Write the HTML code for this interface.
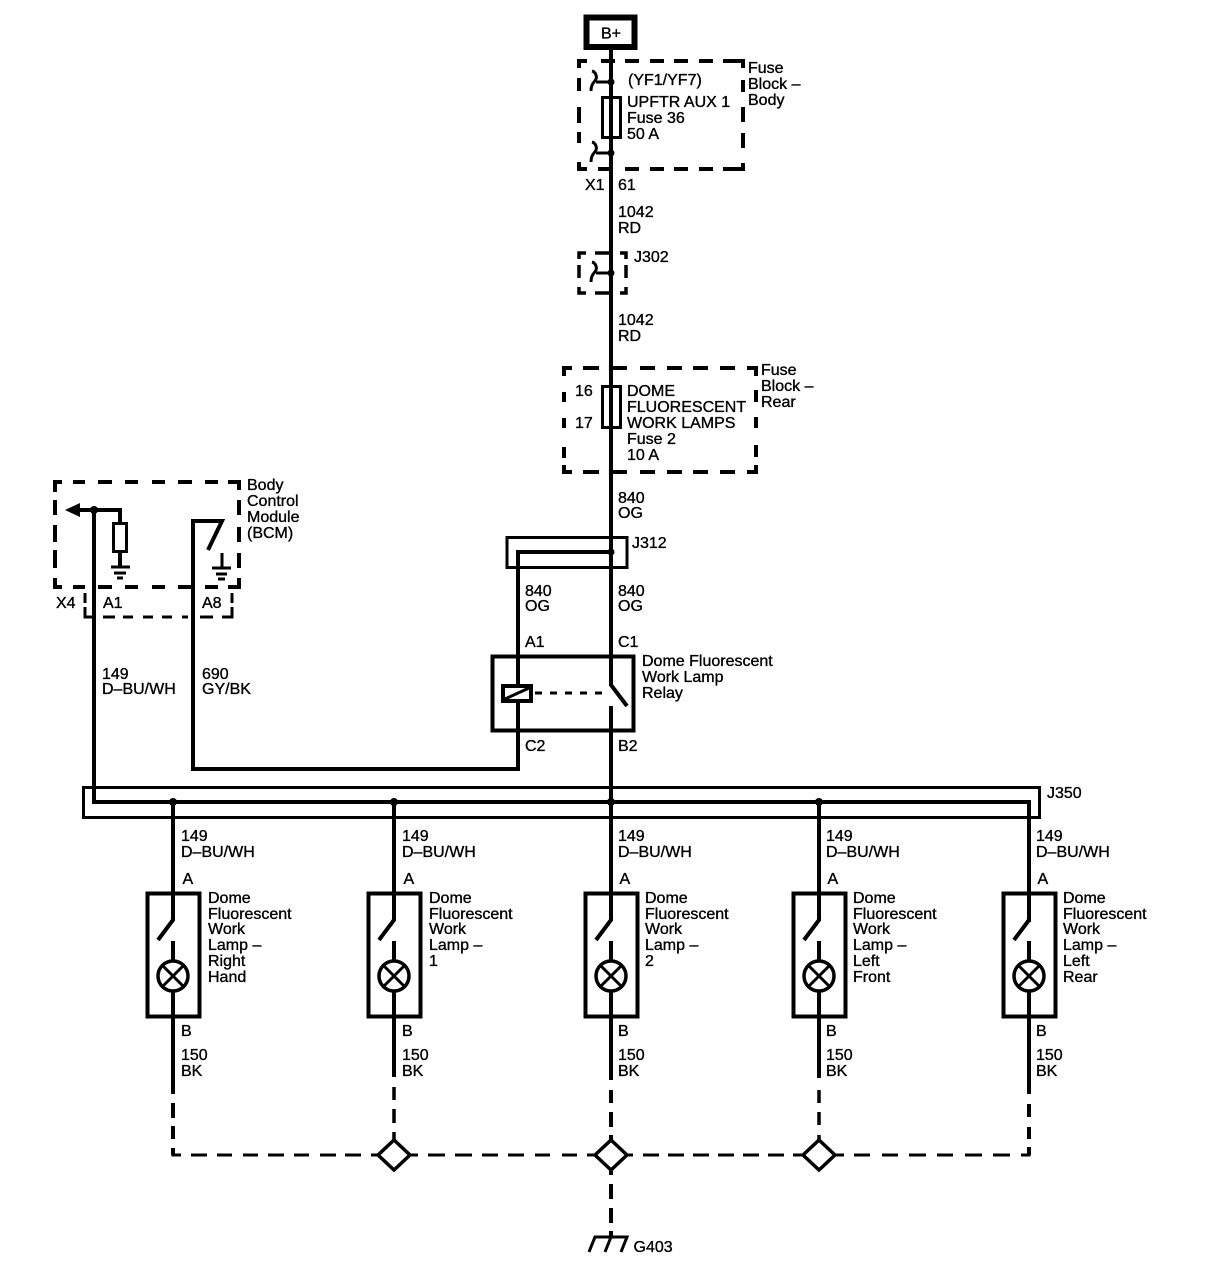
<!DOCTYPE html>
<html><head><meta charset="utf-8"><style>
html,body{margin:0;padding:0;background:#fff}
svg{display:block}
text{font-family:"Liberation Sans",sans-serif;font-size:16px;fill:#000;stroke:#000;stroke-width:.35}
.w{fill:none;stroke:#000;stroke-width:4}
.t{fill:none;stroke:#000;stroke-width:3}
.m{fill:none;stroke:#000;stroke-width:3.500}
</style></head><body>
<svg width="1214" height="1280" viewBox="0 0 1214 1280" xmlns="http://www.w3.org/2000/svg">
<defs>
<path id="f" class="t" d="M596 82H611M592 71C596 72 597 77 596 79C595 82 591 83 591 91"/>
</defs>
<!-- B+ -->
<rect x="586.500" y="17.500" width="48" height="29.500" fill="none" stroke="#000" stroke-width="6"/>
<text x="601" y="38.500">B+</text>
<!-- main wire -->
<path class="w" d="M611 50V685L627 706M611 706V1080"/>
<!-- Fuse block body -->
<path class="w" d="M587 61H579V68M601 61H615M625 61H639M650 61H664M674 61H688M699 61H713M723 61H743V68M743 80V92M743 107V122M743 133V148M743 163V169H723M713 169H699M688 169H674M664 169H650M639 169H625M610 169H598M587 169H579V162M579 143V132M579 123V107M579 91V78"/>
<rect x="602.500" y="97.500" width="18" height="40" fill="#fff" stroke="#000" stroke-width="3"/>
<path class="w" d="M611 95V140"/>
<circle cx="611" cy="82" r="3.500"/><circle cx="611" cy="153" r="3.500"/>
<use href="#f"/>
<use href="#f" y="71"/>
<text x="628" y="85">(YF1/YF7)</text>
<text x="627" y="107">UPFTR AUX 1</text>
<text x="627" y="123">Fuse 36</text>
<text x="627" y="139">50 A</text>
<text x="748" y="73">Fuse</text>
<text x="748" y="89">Block –</text>
<text x="748" y="105">Body</text>
<text x="585" y="190">X1</text>
<text x="618" y="190">61</text>
<text x="618" y="217">1042</text>
<text x="618" y="233">RD</text>
<!-- J302 -->
<path class="m" d="M586 253H579V259M595 253H611M620 253H626V259M626 265V278M626 287V293H620M611 293H595M586 293H579V287M579 278V265"/>
<circle cx="611" cy="273" r="3.500"/>
<use href="#f" y="191"/>
<text x="634" y="262">J302</text>
<text x="618" y="325">1042</text>
<text x="618" y="341">RD</text>
<!-- Fuse block rear -->
<path class="w" d="M572 368H564V376M583 368H599M613 368H627M640 368H655M667 368H682M693 368H708M720 368H735M747 368H756V376M756 390V402M756 417V428M756 445V457M756 465V472H747M735 472H720M708 472H693M682 472H667M655 472H640M627 472H613M599 472H583M572 472H564V465M564 458V447M564 428V418M564 402V392"/>
<rect x="602.500" y="386.500" width="18" height="41" fill="#fff" stroke="#000" stroke-width="3"/>
<path class="w" d="M611 384V430"/>
<text x="575" y="396">16</text>
<text x="575" y="428">17</text>
<text x="627" y="396">DOME</text>
<text x="627" y="412">FLUORESCENT</text>
<text x="627" y="428">WORK LAMPS</text>
<text x="627" y="444">Fuse 2</text>
<text x="627" y="460">10 A</text>
<text x="761" y="375">Fuse</text>
<text x="761" y="391">Block –</text>
<text x="761" y="407">Rear</text>
<text x="618" y="503">840</text>
<text x="618" y="518">OG</text>
<!-- J312 -->
<rect x="507" y="537.500" width="120" height="30" class="t"/>
<path class="w" d="M611 552H518V769H193V521H222L208 550"/>
<circle cx="611" cy="552" r="3.500"/>
<text x="632" y="548">J312</text>
<text x="525" y="596">840</text>
<text x="525" y="611">OG</text>
<text x="618" y="596">840</text>
<text x="618" y="611">OG</text>
<text x="525" y="647">A1</text>
<text x="618" y="647">C1</text>
<!-- relay -->
<rect x="492.500" y="656.500" width="141" height="74" fill="none" stroke="#000" stroke-width="4"/>
<rect x="503" y="686" width="28" height="15" fill="#fff" stroke="#000" stroke-width="4"/>
<path class="t" d="M505 699L529 688"/>
<path d="M535 693H610" fill="none" stroke="#000" stroke-width="3" stroke-dasharray="7 8"/>
<text x="642" y="666">Dome Fluorescent</text>
<text x="642" y="682">Work Lamp</text>
<text x="642" y="698">Relay</text>
<text x="525" y="751">C2</text>
<text x="618" y="751">B2</text>
<!-- BCM -->
<path class="w" d="M62 482H55V492M73 482H85M98 482H112M125 482H138M152 482H165M178 482H192M205 482H218M228 482H239V490M239 500V515M239 527V542M239 553V568M239 578V587H228M218 587H205M192 587H178M165 587H152M138 587H125M112 587H98M85 587H73M62 587H55V578M55 568V550M55 542V525M55 515V500"/>
<path class="t" d="M85 593V603M85 607V617H93M103 617H115M123 617H133M143 617H153M162 617H172M182 617H188M200 617H213M222 617H232V607M232 603V593"/>
<path class="w" d="M94 510V802H1029V1094"/>
<circle cx="94" cy="510" r="4"/>
<path d="M65 510L80 503V517Z"/>
<path class="w" d="M78 510H120V523"/>
<rect x="113.500" y="523.500" width="13" height="28" fill="none" stroke="#000" stroke-width="3"/>
<path class="w" d="M120 552V566"/>
<path class="t" d="M111 567H130M114 573H126M117 578H123"/>
<path class="t" d="M222 553V567"/>
<path class="t" d="M212 568H231M216 574H227M218 579H225"/>
<text x="247" y="490">Body</text>
<text x="247" y="506">Control</text>
<text x="247" y="522">Module</text>
<text x="247" y="538">(BCM)</text>
<text x="56" y="608">X4</text>
<text x="103" y="608">A1</text>
<text x="202" y="608">A8</text>
<text x="102" y="679">149</text>
<text x="102" y="694">D–BU/WH</text>
<text x="202" y="679">690</text>
<text x="202" y="694">GY/BK</text>
<!-- J350 -->
<rect x="83.500" y="787.500" width="956" height="30" class="t"/>
<text x="1047" y="798">J350</text>
<circle cx="173" cy="802" r="4"/><circle cx="394" cy="802" r="4"/><circle cx="611" cy="802" r="4"/><circle cx="819" cy="802" r="4"/>
<!-- lamps -->
<g>
<rect x="147.500" y="893.500" width="52" height="123" fill="none" stroke="#000" stroke-width="4"/>
<path class="w" d="M173 802V920L158 940M173 941V1094"/>
<circle cx="173" cy="976" r="15" fill="#fff" stroke="#000" stroke-width="3.500"/>
<path class="t" d="M162 965L184 987M184 965L162 987"/>
</g>
<g>
<rect x="368.500" y="893.500" width="52" height="123" fill="none" stroke="#000" stroke-width="4"/>
<path class="w" d="M394 802V920L379 940M394 941V1077"/>
<circle cx="394" cy="976" r="15" fill="#fff" stroke="#000" stroke-width="3.500"/>
<path class="t" d="M383 965L405 987M405 965L383 987"/>
</g>
<g>
<rect x="585.500" y="893.500" width="52" height="123" fill="none" stroke="#000" stroke-width="4"/>
<rect x="605" y="915" width="12" height="28" fill="#fff"/>
<path class="w" d="M611 890V920L596 940M611 941V960"/>
<circle cx="611" cy="976" r="15" fill="#fff" stroke="#000" stroke-width="3.500"/>
<path class="t" d="M600 965L622 987M622 965L600 987"/>
</g>
<g>
<rect x="793.500" y="893.500" width="52" height="123" fill="none" stroke="#000" stroke-width="4"/>
<path class="w" d="M819 802V920L804 940M819 941V1078"/>
<circle cx="819" cy="976" r="15" fill="#fff" stroke="#000" stroke-width="3.500"/>
<path class="t" d="M808 965L830 987M830 965L808 987"/>
</g>
<g>
<rect x="1003.500" y="893.500" width="52" height="123" fill="none" stroke="#000" stroke-width="4"/>
<rect x="1024" y="922" width="11" height="19" fill="#fff"/>
<path class="w" d="M1029 920L1014 940M1029 941V960"/>
<circle cx="1029" cy="976" r="15" fill="#fff" stroke="#000" stroke-width="3.500"/>
<path class="t" d="M1018 965L1040 987M1040 965L1018 987"/>
</g>
<!-- labels lamp -->
<text x="181" y="841">149</text><text x="181" y="857">D–BU/WH</text><text x="182.500" y="884">A</text>
<text x="208" y="903">Dome</text><text x="208" y="919">Fluorescent</text><text x="208" y="934">Work</text><text x="208" y="950">Lamp –</text><text x="208" y="966">Right</text><text x="208" y="982">Hand</text>
<text x="181" y="1036">B</text><text x="181" y="1060">150</text><text x="181" y="1076">BK</text>
<text x="402" y="841">149</text><text x="402" y="857">D–BU/WH</text><text x="403.500" y="884">A</text>
<text x="429" y="903">Dome</text><text x="429" y="919">Fluorescent</text><text x="429" y="934">Work</text><text x="429" y="950">Lamp –</text><text x="429" y="966">1</text>
<text x="402" y="1036">B</text><text x="402" y="1060">150</text><text x="402" y="1076">BK</text>
<text x="618" y="841">149</text><text x="618" y="857">D–BU/WH</text><text x="619.500" y="884">A</text>
<text x="645" y="903">Dome</text><text x="645" y="919">Fluorescent</text><text x="645" y="934">Work</text><text x="645" y="950">Lamp –</text><text x="645" y="966">2</text>
<text x="618" y="1036">B</text><text x="618" y="1060">150</text><text x="618" y="1076">BK</text>
<text x="826" y="841">149</text><text x="826" y="857">D–BU/WH</text><text x="827.500" y="884">A</text>
<text x="853" y="903">Dome</text><text x="853" y="919">Fluorescent</text><text x="853" y="934">Work</text><text x="853" y="950">Lamp –</text><text x="853" y="966">Left</text><text x="853" y="982">Front</text>
<text x="826" y="1036">B</text><text x="826" y="1060">150</text><text x="826" y="1076">BK</text>
<text x="1036" y="841">149</text><text x="1036" y="857">D–BU/WH</text><text x="1037.500" y="884">A</text>
<text x="1063" y="903">Dome</text><text x="1063" y="919">Fluorescent</text><text x="1063" y="934">Work</text><text x="1063" y="950">Lamp –</text><text x="1063" y="966">Left</text><text x="1063" y="982">Rear</text>
<text x="1036" y="1036">B</text><text x="1036" y="1060">150</text><text x="1036" y="1076">BK</text>
<!-- dashed bottom -->
<path class="w" d="M173 1103V1118M173 1126V1139M173 1148V1155M1029 1104V1117M1029 1127V1139M1029 1147V1155M611 1090V1103M611 1112V1127M611 1135V1140M611 1171V1175M611 1184V1199M611 1208V1223M611 1231V1238"/>
<path class="m" d="M394 1087V1100M394 1109V1123M394 1132V1140M819 1090V1103M819 1112V1125M819 1135V1140"/>
<path class="t" d="M171.500 1155H181M191 1155H207M217 1155H232M243 1155H258M268 1155H284M294 1155H309M320 1155H336M345 1155H361M371 1155H378M410 1155H418M428 1155H445M455 1155H472M482 1155H498M508 1155H524M535 1155H550M562 1155H577M587 1155H595M627 1155H633M643 1155H659M668 1155H684M693 1155H709M718 1155H734M743 1155H759M768 1155H784M793 1155H803M835 1155H844M854 1155H870M882 1155H898M909 1155H926M937 1155H953M965 1155H982M993 1155H1010M1021 1155H1030.500"/>
<path d="M394 1140L410 1155L394 1170L378 1155Z M611 1140L627 1155L611 1170L595 1155Z M819 1140L835 1155L819 1170L803 1155Z" fill="#fff" stroke="#000" stroke-width="3.500"/>
<path class="t" d="M589 1252L595 1237H627L621 1252M605 1252L611 1237"/>
<text x="633.500" y="1252">G403</text>
</svg>
</body></html>
